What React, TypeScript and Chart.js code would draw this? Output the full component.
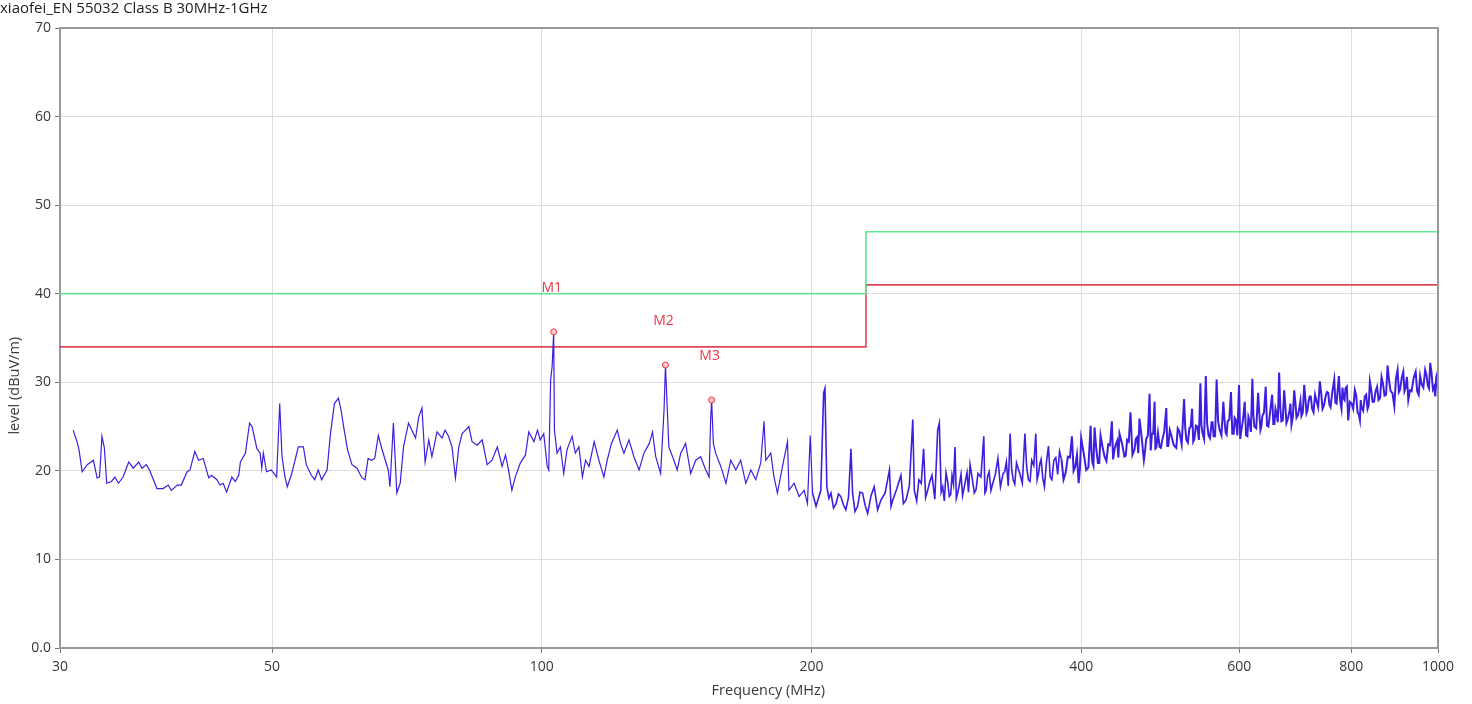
import React, { useEffect, useRef } from 'react';
import { Chart, registerables } from 'chart.js';

Chart.register(...registerables);

const TITLE = 'xiaofei_EN 55032 Class B 30MHz-1GHz';
const X_TITLE = 'Frequency (MHz)';
const Y_TITLE = 'level (dBuV/m)';
const X_MIN = 29;
const X_MAX = 1000;
const X_TICKS = [30, 50, 100, 200, 400, 600, 800, 1000];
const Y_TICKS = [0, 10, 20, 30, 40, 50, 60, 70];
const Y_TICK_LABELS = ['0.0', '10', '20', '30', '40', '50', '60', '70'];

// Peak trace
const FREQ_MHZ = [
  30.0, 30.15, 30.3, 30.45, 30.7, 31.1, 31.6, 31.9, 32.1, 32.3,
  32.5, 32.7, 33.1, 33.4, 33.7, 34.1, 34.6, 35.0, 35.5, 35.8,
  36.2, 36.5, 37.2, 37.8, 38.3, 38.6, 39.2, 39.6, 40.2, 40.5,
  41.0, 41.4, 41.9, 42.5, 42.8, 43.4, 43.75, 44.1, 44.5, 45.1,
  45.5, 45.9, 46.1, 46.7, 47.2, 47.5, 48.1, 48.5, 48.7, 48.9,
  49.3, 49.9, 50.6, 51.0, 51.3, 51.7, 52.0, 52.6, 53.5, 54.2,
  54.6, 55.3, 55.8, 56.3, 56.8, 57.6, 58.1, 58.7, 59.3, 59.7,
  60.1, 60.7, 61.4, 62.2, 63.0, 63.5, 64.0, 64.6, 65.1, 65.7,
  66.3, 66.8, 67.4, 67.7, 68.3, 68.9, 69.5, 70.1, 71.0, 71.6,
  72.3, 72.9, 73.5, 74.1, 74.8, 75.4, 76.4, 77.4, 78.0, 78.7,
  79.4, 80.1, 80.8, 81.5, 82.2, 82.9, 83.6, 84.7, 85.8, 86.9,
  88.0, 89.2, 90.3, 91.1, 91.8, 92.6, 93.4, 94.65, 95.9, 96.7,
  98.0, 98.9, 99.6,
  100.5, 101.4, 101.8, 102.3, 102.7, 103.1, 103.3,
  104.0, 104.9, 105.8, 106.7, 108.1, 109.0, 110.0, 111.0, 111.9, 112.9,
  114.4, 115.8, 117.3, 118.3, 119.6, 121.4, 122.4, 123.5, 125.1, 126.7,
  128.4, 130.0, 131.8, 132.9, 134.0, 135.7, 136.9, 137.4, 138.0, 138.6,
  140.4, 141.6, 142.9, 144.7, 146.6, 148.5, 150.4, 152.4, 153.7, 154.3,
  154.7, 155.4, 156.3, 158.4, 160.5, 162.5, 164.6, 166.7, 168.9, 171.1,
  173.3, 175.5, 177.0, 177.8, 180.1, 181.6, 183.2, 185.6, 188.0, 188.7,
  191.2, 193.7, 196.2, 197.9, 199.3, 200.5, 202.3, 204.8, 206.3, 207.0,
  208.0, 210.2, 213.0, 215.6, 218.4, 221.3, 222.2, 225.1, 228.0, 231.0,
  234.9, 239.0, 244.3, 246.4, 251.6, 254.9, 259.4, 260.4, 263.5, 266.7,
  269.5, 272.5, 276.5, 277.7, 280.1, 282.5, 284.9, 286.9, 289.1, 291.1,
  293.6, 296.1, 298.2, 300.5, 303.8, 306.7, 311.3, 313.2, 315.6, 318.6,
  322.8, 327.1, 329.9, 333.1, 335.7, 338.6, 341.5, 346.0, 349.1, 352.1,
  355.8, 358.3, 360.7, 363.8, 367.6, 370.8, 374.6, 378.2, 382.1, 386.4,
  390.4, 393.8, 397.2, 399.8, 405.0, 409.6, 411.4, 413.8, 417.4, 420.2,
  424.6, 428.6, 432.6, 435.5, 438.6, 441.2, 446.8, 449.9, 453.8, 458.5,
  461.6, 464.4, 469.7, 472.5, 476.6, 479.5, 482.8, 484.9, 489.1,
  492.4, 497.5, 500.1, 504.0, 510.5, 514.4, 520.8, 523.9, 527.9, 531.6, 534.8,
  538.9, 543.1, 546.0, 550.7, 554.6, 558.9, 561.8, 566.2, 570.6, 576.1,
  579.5, 582.5, 587.5, 591.6, 594.7, 599.8, 603.4, 608.6, 612.8, 616.0,
  620.7, 623.9, 629.9, 633.7, 636.8, 642.3, 646.8, 653.0, 656.9, 660.3,
  664.9, 668.8, 673.5, 677.5, 682.8, 686.3, 691.1, 695.2, 700.6, 704.1,
  709.1, 713.3, 717.0, 721.2, 726.3, 731.9, 738.2, 743.3, 749.1, 754.3,
  758.8, 766.0, 770.6, 775.2, 780.4, 784.5, 788.5, 794.0, 800.8, 807.7,
  813.3, 818.2, 821.6, 828.7, 834.4, 839.4, 845.2, 851.8, 858.4, 865.0,
  871.7, 878.5, 885.3, 893.8, 901.4, 907.2, 914.7, 920.1, 926.5, 934.5,
  944.2, 951.6, 958.7, 967.5, 974.3, 980.2, 987.0, 993.0, 998.0, 1000,
];

const LEVEL_DBUV = [
  24.6, 23.9, 23.3, 22.4, 19.9, 20.7, 21.2, 19.2, 19.3, 23.9,
  22.6, 18.6, 18.8, 19.3, 18.6, 19.3, 21.0, 20.3, 21.0, 20.3,
  20.7, 20.1, 18.0, 18.0, 18.4, 17.8, 18.4, 18.4, 19.9, 20.1,
  22.2, 21.2, 21.4, 19.2, 19.5, 19.0, 18.4, 18.6, 17.6, 19.3,
  18.8, 19.5, 21.0, 22.0, 25.4, 25.0, 22.5, 22.0, 20.3, 22.0,
  19.9, 20.1, 19.3, 27.6, 21.6, 19.3, 18.2, 19.7, 22.7, 22.7,
  20.7, 19.5, 19.0, 20.1, 19.0, 20.1, 24.2, 27.6, 28.2, 26.9,
  25.0, 22.4, 20.7, 20.3, 19.2, 19.0, 21.4, 21.2, 21.4, 24.0,
  22.5, 21.4, 20.1, 18.2, 25.4, 17.5, 18.6, 22.7, 25.4, 24.6,
  23.7, 26.1, 27.1, 21.0, 23.5, 21.6, 24.4, 23.7, 24.6, 23.9,
  22.7, 19.2, 22.7, 24.2, 24.6, 25.0, 23.3, 22.9, 23.5, 20.7,
  21.2, 22.7, 20.5, 21.8, 20.1, 17.8, 19.3, 20.9, 21.8, 24.4,
  23.3, 24.6, 23.5,
  24.2, 20.5, 20.1, 30.3, 31.8, 35.7, 24.6,
  22.0, 22.7, 19.7, 22.4, 23.9, 22.0, 22.7, 19.3, 21.2, 20.5,
  23.3, 21.2, 19.3, 21.2, 23.1, 24.6, 23.1, 22.0, 23.5, 21.6,
  20.1, 22.0, 23.1, 24.4, 21.6, 19.7, 26.9, 31.95, 27.3, 22.7,
  21.2, 20.1, 22.0, 23.1, 19.7, 21.2, 21.6, 20.1, 19.3, 25.7,
  28.0, 23.1, 22.0, 20.5, 18.6, 21.2, 20.1, 21.2, 18.6, 20.1,
  19.0, 20.9, 25.6, 21.2, 22.0, 19.3, 17.5, 20.5, 23.3, 17.8,
  18.6, 17.1, 17.8, 16.3, 24.0, 17.5, 16.0, 17.8, 28.8, 29.3,
  18.2, 17.5, 16.3, 17.1, 15.6, 22.5, 17.5, 16.0, 17.5, 15.2,
  18.2, 16.7, 20.1, 16.7, 19.5, 16.7, 25.8, 17.8, 19.0, 22.5,
  17.8, 19.5, 24.6, 25.4, 18.2, 19.8, 17.1, 19.5, 22.7, 17.5,
  19.6, 18.2, 19.8, 20.7, 17.5, 19.7, 23.9, 17.8, 19.9, 18.6,
  21.4, 19.7, 21.0, 24.2, 19.0, 20.9, 19.7, 24.2, 19.0, 21.2,
  24.2, 19.7, 21.3, 18.2, 22.8, 19.0, 21.5, 22.2, 19.0, 21.6,
  23.9, 20.5, 18.6, 23.7, 20.1, 25.1, 21.0, 24.9, 20.9, 24.0,
  21.6, 23.0, 25.6, 22.4, 23.4, 24.2, 21.6, 23.5, 26.6, 22.4,
  23.8, 25.9, 21.2, 23.6, 28.7, 24.2, 27.8, 22.6, 22.7,
  23.5, 27.1, 22.8, 24.0, 22.6, 24.5, 28.1, 23.5, 24.8, 27.0, 23.6,
  25.0, 29.9, 24.3, 30.7, 24.0, 25.5, 23.9, 30.3, 24.6, 27.8,
  24.3, 25.6, 28.9, 24.2, 25.8, 29.7, 24.6, 27.8, 23.9, 25.7,
  30.4, 25.0, 28.8, 24.6, 26.2, 29.5, 25.0, 28.6, 25.3, 26.5,
  31.1, 25.6, 29.1, 25.4, 26.8, 25.2, 29.1, 26.0, 27.2, 26.2,
  29.7, 26.5, 27.8, 28.4, 26.6, 27.9, 30.1, 27.0, 28.4, 28.8,
  27.2, 30.3, 27.6, 30.7, 27.0, 28.2, 29.3, 25.7, 27.6, 29.1,
  26.6, 25.7, 27.2, 28.4, 27.0, 30.1, 27.8, 29.0, 28.0, 30.6,
  28.5, 31.9, 29.0, 27.3, 31.4, 29.2, 31.2, 29.4, 28.0, 29.0,
  31.2, 28.6, 29.8, 31.4, 29.6, 32.2, 29.2, 28.4, 31.0, 29.0,
];

// Dense noise floor samples between the peaks above 200 MHz
const FLOOR_FREQ_MHZ = [
  209.1, 211.6, 214.3, 217.0, 219.9, 223.6, 226.5, 229.5, 233.0, 237.0,
  241.6, 245.3, 249.0, 253.2, 257.1, 262.0, 265.1, 268.1, 271.0, 274.5,
  279.0, 281.3, 283.7, 285.9, 288.0, 290.1, 292.3, 294.8, 297.1, 299.3,
  302.1, 305.2, 309.0, 312.2, 314.4, 317.1, 320.7, 324.9, 328.5, 331.5,
  334.4, 337.1, 340.0, 343.7, 347.5, 350.6, 354.0, 357.0, 359.5, 362.2,
  365.7, 369.2, 372.7, 376.4, 380.1, 384.2, 388.4, 392.1, 395.5, 398.5,
  402.4, 407.3, 410.5, 412.6, 415.6, 418.8, 422.4, 426.6, 430.6, 434.0,
  437.0, 439.9, 444.0, 448.3, 451.8, 456.1, 460.0, 463.0, 467.0, 471.1,
  474.5, 478.0, 481.1, 483.8, 487.0, 490.7, 494.9, 498.8, 502.0, 507.2,
  512.4, 517.6, 522.3, 525.9, 529.7, 533.2, 536.8, 541.0, 544.5, 548.3,
  552.6, 556.7, 560.3, 564.0, 568.4, 573.3, 577.8, 581.0, 585.0, 589.5,
  593.1, 597.2, 601.6, 606.0, 610.7, 614.4, 618.3, 622.3, 626.9, 631.8,
  635.2, 639.5, 644.5, 649.9, 655.0, 658.6, 662.6, 666.8, 671.1, 675.5,
  680.1, 684.5, 688.7, 693.1, 697.9, 702.3, 706.6, 711.2, 715.1, 719.1,
  723.7, 729.1, 735.0, 740.7, 746.2, 751.7, 756.5, 762.4, 768.3, 772.9,
  777.8, 782.4, 786.5, 791.2, 797.4, 804.2, 810.5, 815.7, 819.9, 825.1,
  831.5, 836.9, 842.3, 848.5, 855.1, 861.7, 868.3, 875.1, 881.9, 889.5,
  897.6, 904.3, 911.0, 917.4, 923.3, 930.5, 939.3, 947.9, 955.1, 963.1,
  970.9, 977.2, 983.6, 990.0, 995.5, 999.0,
];

const FLOOR_LEVEL_DBUV = [
  16.9, 15.8, 17.4, 16.2, 17.0, 15.4, 17.6, 16.1, 17.2, 15.6,
  17.5, 16.0, 18.0, 16.3, 18.3, 16.6, 18.6, 17.0, 18.8, 16.8,
  17.6, 16.6, 18.8, 17.3, 18.5, 16.9, 18.4, 17.2, 19.0, 17.6,
  19.2, 17.9, 19.3, 17.5, 19.4, 17.8, 19.6, 18.2, 19.9, 18.3,
  20.2, 18.5, 20.3, 18.6, 20.5, 18.8, 20.6, 19.0, 20.8, 19.2,
  21.0, 19.3, 21.2, 19.6, 21.3, 19.8, 21.5, 20.0, 21.8, 20.2,
  22.0, 20.4, 22.3, 20.6, 22.5, 20.9, 22.7, 21.1, 22.9, 21.3,
  23.0, 21.5, 23.1, 21.7, 23.3, 21.8, 23.6, 22.0, 23.8, 22.2,
  24.0, 22.3, 24.2, 22.5, 24.3, 22.6, 24.4, 22.8, 24.6, 22.9,
  24.8, 23.0, 24.9, 23.2, 25.0, 23.3, 25.1, 23.5, 25.2, 23.6,
  25.3, 23.7, 25.5, 23.9, 25.6, 24.0, 25.7, 24.1, 25.8, 24.2,
  26.0, 24.0, 23.6, 25.8, 24.0, 26.1, 24.4, 26.3, 24.8, 26.5,
  25.0, 26.6, 25.1, 26.8, 25.3, 27.0, 25.5, 27.2, 25.7, 27.4,
  25.9, 27.6, 26.1, 27.8, 26.3, 27.9, 26.6, 28.2, 26.8, 28.4,
  27.0, 28.6, 27.2, 28.8, 27.4, 28.9, 27.5, 29.0, 27.7, 29.2,
  27.9, 29.4, 28.0, 29.5, 27.8, 27.0, 28.5, 26.4, 28.0, 26.8,
  28.6, 27.4, 29.2, 27.8, 29.5, 28.2, 29.8, 28.6, 30.2, 28.8,
  30.4, 28.9, 30.5, 29.0, 30.6, 29.1, 30.5, 29.0, 30.7, 29.4,
  30.8, 29.3, 31.0, 29.5, 30.6, 29.7,
];

const LIMIT_FREQ = [X_MIN, 230, 230, X_MAX];
const LIMIT_UPPER = [40, 40, 47, 47];
const LIMIT_LOWER = [34, 34, 41, 41];

const MARKER_NAMES = ['M1', 'M2', 'M3'];
const MARKER_FREQ = [103.1, 137.4, 154.7];
const MARKER_LEVEL = [35.7, 31.95, 28.0];

const FONT_FAMILY = '"Open Sans", "Noto Sans", sans-serif';
const TEXT_COLOR = '#383838';
const TRACE_COLOR = '#3d1fe0';
const UPPER_COLOR = '#62e68f';
const LOWER_COLOR = '#e0465b';
const MARKER_COLOR = '#e8384a';
const GRID_COLOR = '#dddddd';
const AXIS_COLOR = '#999999';

const framePlugin = {
  id: 'frame',
  afterDraw(chart: any) {
    const { ctx, chartArea } = chart;
    ctx.save();
    ctx.strokeStyle = AXIS_COLOR;
    ctx.lineWidth = 2;
    ctx.beginPath();
    ctx.moveTo(chartArea.left, chartArea.top);
    ctx.lineTo(chartArea.right, chartArea.top);
    ctx.lineTo(chartArea.right, chartArea.bottom);
    ctx.stroke();
    ctx.restore();
  },
};

const axisTitlePlugin = {
  id: 'axisTitles',
  afterDraw(chart: any) {
    const { ctx, chartArea } = chart;
    ctx.save();
    ctx.fillStyle = TEXT_COLOR;
    ctx.font = `14.5px ${FONT_FAMILY}`;
    ctx.textAlign = 'center';
    ctx.textBaseline = 'middle';
    const midX = chartArea.left + (chartArea.right - chartArea.left) * 0.514;
    ctx.fillText(X_TITLE, midX, chartArea.bottom + 43);
    ctx.translate(15, chartArea.top + (chartArea.bottom - chartArea.top) * 0.577);
    ctx.rotate(-Math.PI / 2);
    ctx.fillText(Y_TITLE, 0, 0);
    ctx.restore();
  },
};

const markerLabelPlugin = {
  id: 'markerLabels',
  afterDatasetsDraw(chart: any) {
    const meta = chart.getDatasetMeta(0);
    const { ctx } = chart;
    ctx.save();
    ctx.fillStyle = MARKER_COLOR;
    ctx.font = `14px ${FONT_FAMILY}`;
    ctx.textAlign = 'center';
    ctx.textBaseline = 'middle';
    meta.data.forEach((el: any, i: number) => {
      ctx.fillText(MARKER_NAMES[i], el.x - 2, el.y - 44);
    });
    ctx.restore();
  },
};

export default function App() {
  const canvasRef = useRef<HTMLCanvasElement | null>(null);

  useEffect(() => {
    document.body.style.margin = '0';
    const canvas = canvasRef.current;
    if (!canvas) return;
    const trace = FREQ_MHZ.map((f, i) => ({ x: f, y: LEVEL_DBUV[i] }))
      .concat(FLOOR_FREQ_MHZ.map((f, i) => ({ x: f, y: FLOOR_LEVEL_DBUV[i] })))
      .sort((a, b) => a.x - b.x);
    const upper = LIMIT_FREQ.map((f, i) => ({ x: f, y: LIMIT_UPPER[i] }));
    const lower = LIMIT_FREQ.map((f, i) => ({ x: f, y: LIMIT_LOWER[i] }));
    const markers = MARKER_FREQ.map((f, i) => ({ x: f, y: MARKER_LEVEL[i] }));

    const chart = new Chart(canvas, {
      type: 'line',
      data: {
        datasets: [
          {
            label: 'Markers',
            data: markers,
            showLine: false,
            pointRadius: 3,
            pointBorderWidth: 1,
            pointBorderColor: MARKER_COLOR,
            pointBackgroundColor: '#ffc8c8',
          },
          {
            label: 'Trace',
            data: trace,
            borderColor: TRACE_COLOR,
            borderWidth: 1.3,
            pointRadius: 0,
            tension: 0,
            segment: {
              borderWidth: (c: any) => (c.p0.parsed.x > 380 ? 2 : c.p0.parsed.x > 200 ? 1.6 : 1.2),
            },
          },
          {
            label: 'Limit',
            data: upper,
            borderColor: UPPER_COLOR,
            borderWidth: 1.6,
            pointRadius: 0,
          },
          {
            label: 'Margin',
            data: lower,
            borderColor: LOWER_COLOR,
            borderWidth: 1.6,
            pointRadius: 0,
          },
        ],
      },
      options: {
        responsive: false,
        animation: false,
        layout: { padding: { left: 0, right: 34, top: 0, bottom: 0 } },
        plugins: {
          legend: { display: false },
          tooltip: { enabled: false },
          title: {
            display: true,
            text: TITLE,
            align: 'start',
            color: '#222222',
            font: { family: FONT_FAMILY, size: 15, weight: 'normal' },
            padding: { top: 0, bottom: 10 },
          },
        },
        scales: {
          x: {
            type: 'logarithmic',
            min: X_MIN,
            max: X_MAX,
            afterBuildTicks: (scale: any) => {
              scale.ticks = X_TICKS.map((v, i) => ({ value: i === 0 ? X_MIN : v }));
            },
            afterFit: (scale: any) => {
              scale.height = 56;
            },
            ticks: {
              autoSkip: false,
              maxRotation: 0,
              padding: 6,
              color: TEXT_COLOR,
              font: { family: FONT_FAMILY, size: 14 },
              callback: (_v: any, index: number) => String(X_TICKS[index]),
            },
            grid: { color: GRID_COLOR, tickColor: '#777777', tickLength: 5, lineWidth: 1 },
            border: { display: true, color: AXIS_COLOR, width: 2 },
          },
          y: {
            type: 'linear',
            min: 0,
            max: 70,
            afterBuildTicks: (scale: any) => {
              scale.ticks = Y_TICKS.map((v) => ({ value: v }));
            },
            afterFit: (scale: any) => {
              scale.width = 60;
            },
            ticks: {
              padding: 4,
              color: TEXT_COLOR,
              font: { family: FONT_FAMILY, size: 14 },
              callback: (_v: any, index: number) => Y_TICK_LABELS[index],
            },
            grid: { color: GRID_COLOR, tickColor: '#777777', tickLength: 5, lineWidth: 1 },
            border: { display: true, color: AXIS_COLOR, width: 2 },
          },
        },
      },
      plugins: [framePlugin, markerLabelPlugin, axisTitlePlugin],
    } as any);

    return () => {
      chart.destroy();
    };
  }, []);

  return (
    <div style={{ width: 1472, height: 704 }}>
      <canvas ref={canvasRef} width={1472} height={704} style={{ display: 'block' }} />
    </div>
  );
}
